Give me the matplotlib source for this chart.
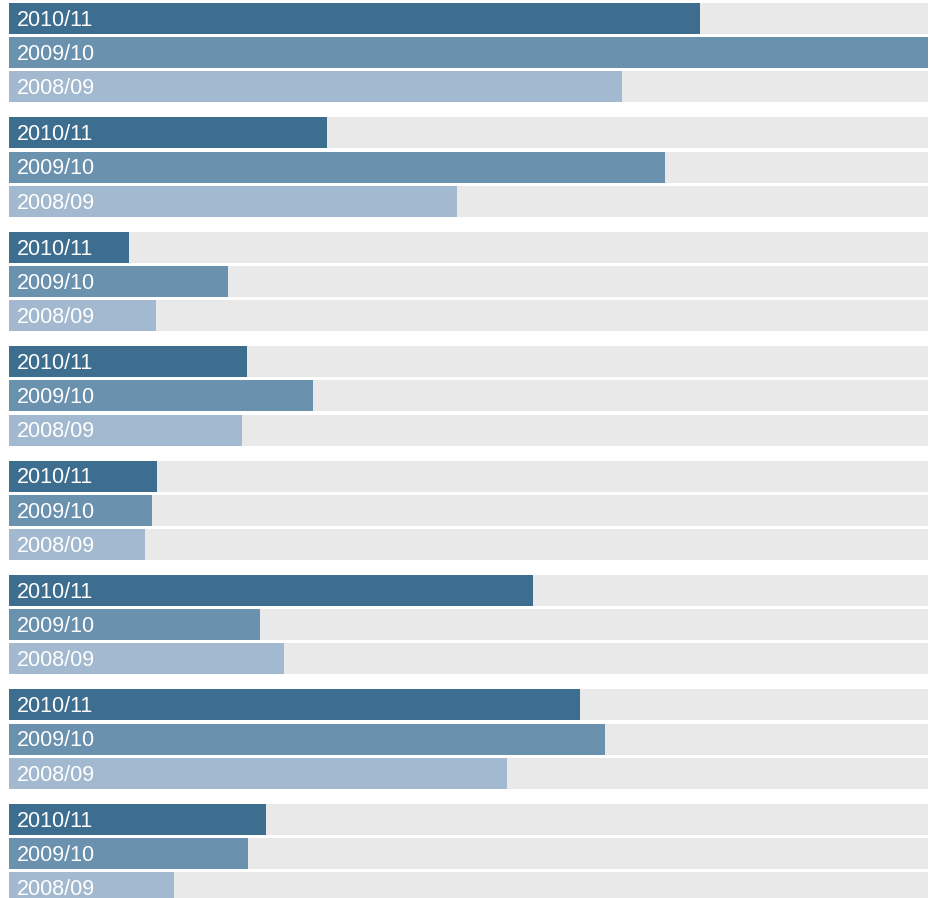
import matplotlib
matplotlib.use("Agg")
import matplotlib.pyplot as plt

series_labels = ["2010/11", "2009/10", "2008/09"]
values_2010_11 = [75.2, 34.6, 13.1, 25.9, 16.1, 57.0, 62.1, 28.0]
values_2009_10 = [100.0, 71.4, 23.8, 33.1, 15.6, 27.3, 64.9, 26.0]
values_2008_09 = [66.7, 48.7, 16.0, 25.4, 14.8, 29.9, 54.2, 18.0]
max_value = 100.0

colors = ["#3d6e8f", "#6a91ae", "#a2b9cf"]
track_color = "#e9e9e9"

plt.rcParams['font.family'] = ['Liberation Sans', 'DejaVu Sans']

fig = plt.figure(figsize=(9.31, 8.98), dpi=100)
ax = fig.add_axes([0, 0, 1, 1])
ax.set_axis_off()

W = 931.0
left_px, right_px = 9.0, 928.0
span = right_px - left_px
ax.set_xlim(-left_px / span * max_value, (W - left_px) / span * max_value)

pitch_px = 34.2
group_px = 114.4
ax.set_ylim((898 - 18.5) / pitch_px, -18.5 / pitch_px)
bar_h = 31.0 / pitch_px
group_pitch = group_px / pitch_px

all_series = [values_2010_11, values_2009_10, values_2008_09]
n_groups = len(values_2010_11)
for g in range(n_groups):
    for b, vals in enumerate(all_series):
        y = g * group_pitch + b
        ax.barh(y, max_value, height=bar_h, left=0, color=track_color, linewidth=0)
        ax.barh(y, vals[g], height=bar_h, left=0, color=colors[b], linewidth=0)
        ax.text(8.0 / span * max_value, y + 0.05, series_labels[b], color="white",
                fontsize=15.5, va="center", ha="left")

fig.savefig("out.png", dpi=100)
